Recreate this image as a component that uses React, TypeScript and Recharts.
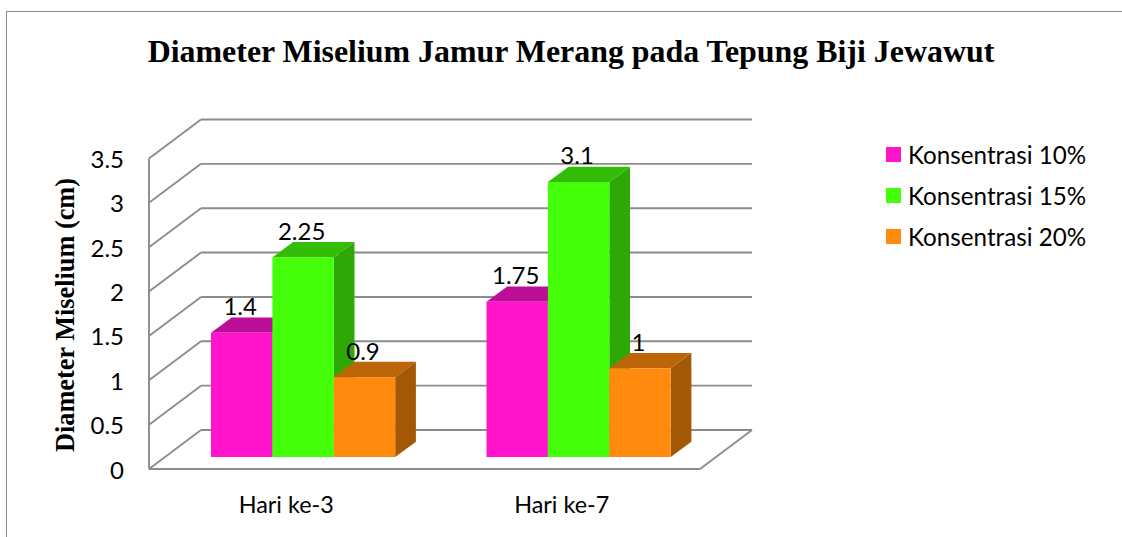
import { BarChart, Bar, XAxis, YAxis, CartesianGrid, Legend, LabelList } from "recharts";

const categories = ["Hari ke-3", "Hari ke-7"];
const konsentrasi10 = [1.4, 1.75];
const konsentrasi15 = [2.25, 3.1];
const konsentrasi20 = [0.9, 1];
const yTicks = [0, 0.5, 1, 1.5, 2, 2.5, 3, 3.5];

const chartData = categories.map((name, i) => ({
  name,
  k10: konsentrasi10[i],
  k15: konsentrasi15[i],
  k20: konsentrasi20[i],
}));

const WIDTH = 1122;
const HEIGHT = 537;
const GRID = "#8c8c8c";
const LABEL_FONT = "Lato, sans-serif";
const SERIF = "'Liberation Serif', serif";
const PLOT_LEFT = 165;
const PLOT_BOTTOM = 457;

// depth of the fake 3D box, measured from the plane the bars stand on
const FRONT = { dx: -16, dy: 12 };
const BACK = { dx: 36, dy: -27 };
const BAR_DEPTH = { dx: 20.7, dy: -15.3 };

const line = (x1: number, y1: number, x2: number, y2: number, key: string) => (
  <line key={key} x1={x1} y1={y1} x2={x2} y2={y2} stroke={GRID} strokeWidth={1.9} />
);

function HorizontalWall(props: any) {
  const { x1, x2, y1 } = props;
  const isFloor = Math.abs(y1 - PLOT_BOTTOM) < 1;
  return (
    <g key={props.key}>
      {line(x1 + FRONT.dx, y1 + FRONT.dy, x1 + BACK.dx, y1 + BACK.dy, "side")}
      {line(x1 + BACK.dx, y1 + BACK.dy, x2 + BACK.dx, y1 + BACK.dy, "back")}
      {isFloor && line(x1 + FRONT.dx, y1 + FRONT.dy, x2 + FRONT.dx, y1 + FRONT.dy, "front")}
      {isFloor && line(x2 + FRONT.dx, y1 + FRONT.dy, x2 + BACK.dx, y1 + BACK.dy, "edge")}
    </g>
  );
}

function VerticalWall(props: any) {
  const { x1, y1, y2 } = props;
  return (
    <g key={props.key}>{line(x1 + FRONT.dx, y1 + FRONT.dy, x1 + FRONT.dx, y2 + FRONT.dy, "v")}</g>
  );
}

const bar3d = (front: string, top: string, side: string) => (props: any) => {
  const { x, y, width, height } = props;
  const { dx, dy } = BAR_DEPTH;
  const right = x + width;
  const bottom = y + height;
  return (
    <g>
      <polygon points={`${right},${y} ${right + dx},${y + dy} ${right + dx},${bottom + dy} ${right},${bottom}`} fill={side} />
      <polygon points={`${x},${y} ${x + dx},${y + dy} ${right + dx},${y + dy} ${right},${y}`} fill={top} />
      <rect x={x} y={y} width={width} height={height} fill={front} />
    </g>
  );
};

function ValueLabel(props: any) {
  const { x, y, width, value } = props;
  return (
    <text x={x + width / 2 - 1.5} y={y - 27} textAnchor="middle" dominantBaseline="central" fontFamily={LABEL_FONT} fontSize={24} fill="#000">
      {value}
    </text>
  );
}

function YTick(props: any) {
  const { y, payload } = props;
  return (
    <text x={124} y={y + FRONT.dy} textAnchor="end" dominantBaseline="central" fontFamily={LABEL_FONT} fontSize={24} fill="#000">
      {payload.value}
    </text>
  );
}

function XTick(props: any) {
  const { x, y, payload } = props;
  return (
    <text x={x + FRONT.dx - 0.5} y={y + 39} textAnchor="middle" dominantBaseline="central" fontFamily={LABEL_FONT} fontSize={23.4} fill="#000">
      {payload.value}
    </text>
  );
}

function LegendBox({ payload }: any) {
  return (
    <div>
      {(payload || []).map((item: any) => (
        <div key={item.value} style={{ display: "flex", alignItems: "center", height: 41, fontFamily: LABEL_FONT, fontSize: 24.2, color: "#000", whiteSpace: "nowrap" }}>
          <span style={{ width: 15, height: 15, background: item.color, marginRight: 7 }} />
          {item.value}
        </div>
      ))}
    </div>
  );
}

export default function App() {
  return (
    <div style={{ position: "absolute", left: 0, top: 0, width: WIDTH, height: HEIGHT, background: "#fff", overflow: "hidden" }}>
      <div style={{ position: "absolute", left: 6, top: 11, right: -2, bottom: -2, borderLeft: `1.5px solid ${GRID}`, borderTop: `1.5px solid ${GRID}` }} />
      <div style={{ position: "absolute", left: 0, top: 0 }}>
        <BarChart
          width={WIDTH}
          height={HEIGHT}
          data={chartData}
          barGap={0}
          barSize={61.4}
          margin={{ top: 146.5, right: WIDTH - 716, bottom: 0, left: 0 }}
        >
          <text x={571} y={62} textAnchor="middle" fontFamily={SERIF} fontWeight="bold" fontSize={31.9} fill="#000">
            Diameter Miselium Jamur Merang pada Tepung Biji Jewawut
          </text>
          <text
            x={74}
            y={315}
            textAnchor="middle"
            transform="rotate(-90 74 315)"
            fontFamily={SERIF}
            fontWeight="bold"
            fontSize={26.3}
            fill="#000"
          >
            Diameter Miselium (cm)
          </text>
          <CartesianGrid horizontal={HorizontalWall} vertical={VerticalWall} verticalPoints={[PLOT_LEFT]} syncWithTicks />
          <XAxis dataKey="name" height={80} axisLine={false} tickLine={false} tick={XTick} interval={0} />
          <YAxis width={PLOT_LEFT} domain={[0, 3.5]} ticks={yTicks} axisLine={false} tickLine={false} tick={YTick} interval={0} />
          <Legend
            layout="vertical"
            align="center"
            verticalAlign="middle"
            content={LegendBox}
            wrapperStyle={{ left: 886, top: 134, width: 230 }}
          />
          <Bar dataKey="k10" name="Konsentrasi 10%" fill="#FF14CC" isAnimationActive={false} shape={bar3d("#FF14CC", "#BC0E96", "#A80C86")}>
            <LabelList dataKey="k10" content={ValueLabel} />
          </Bar>
          <Bar dataKey="k15" name="Konsentrasi 15%" fill="#45FF0A" isAnimationActive={false} shape={bar3d("#45FF0A", "#33BD07", "#2EA806")}>
            <LabelList dataKey="k15" content={ValueLabel} />
          </Bar>
          <Bar dataKey="k20" name="Konsentrasi 20%" fill="#FF8A0D" isAnimationActive={false} shape={bar3d("#FF8A0D", "#BD6609", "#A35805")}>
            <LabelList dataKey="k20" content={ValueLabel} />
          </Bar>
        </BarChart>
      </div>
    </div>
  );
}
